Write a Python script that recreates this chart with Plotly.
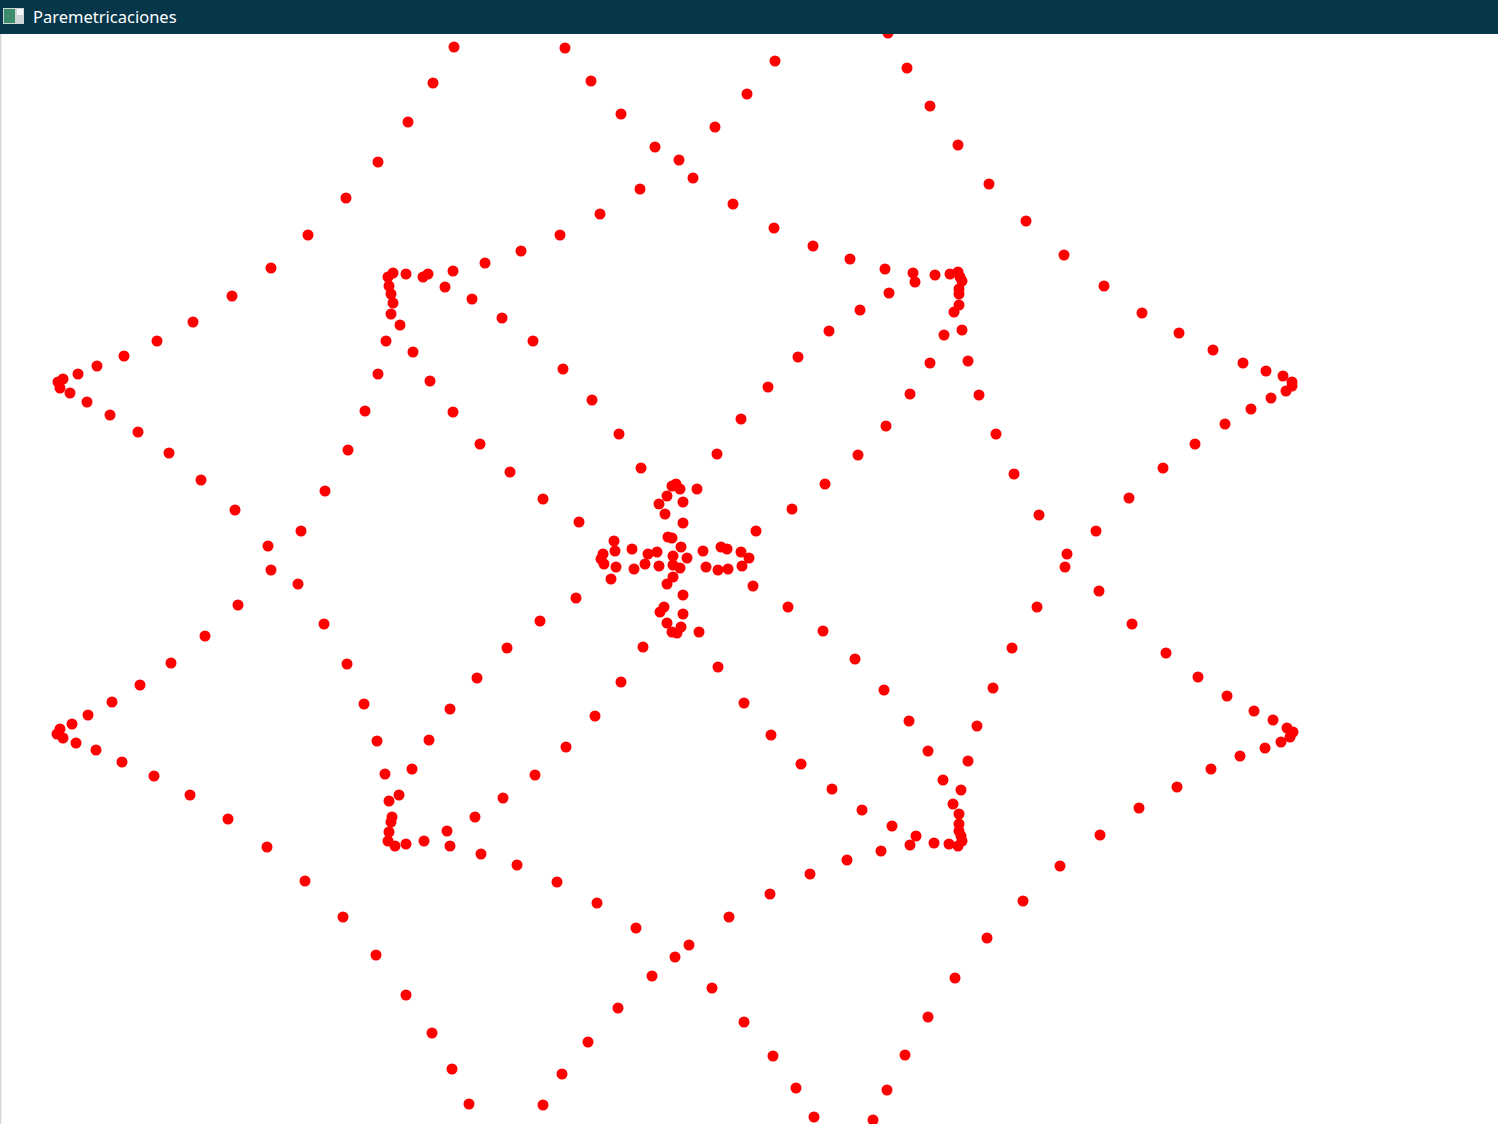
import plotly.graph_objects as go

# dot positions (pixels, origin top-left)
top_left = [(454, 47), (433, 83), (408, 122), (378, 162), (346, 198), (308, 235), (271, 268),
            (232, 296), (193, 322), (157, 341), (124, 356), (97, 366), (78, 374),
            (393, 273), (388, 277), (389, 286), (391, 294), (393, 303), (391, 314), (400, 325),
            (386, 341), (413, 352), (378, 374), (406, 274), (423, 277), (428, 274), (445, 287),
            (453, 271), (472, 299), (485, 263), (502, 318)]

left_mid = [(58, 382), (63, 379), (60, 388), (70, 393), (87, 402), (110, 415), (138, 432),
            (169, 453), (201, 480), (235, 510), (268, 546), (271, 570), (238, 605), (205, 636),
            (171, 663), (140, 685), (112, 702), (88, 715), (72, 724), (60, 729), (57, 734),
            (63, 738), (76, 743), (96, 750),
            (430, 381), (365, 411), (453, 412), (348, 450), (480, 444), (325, 491), (301, 531),
            (298, 584), (324, 624), (347, 664), (364, 704), (377, 741), (477, 678), (450, 709),
            (429, 740)]

bottom_left = [(122, 762), (154, 776), (190, 795), (228, 819), (267, 847), (305, 881), (343, 917),
               (376, 955), (406, 995), (432, 1033), (452, 1069), (469, 1104),
               (385, 774), (412, 769), (399, 795), (389, 801), (392, 817), (391, 822), (389, 832),
               (388, 841), (395, 846), (406, 844), (424, 841), (447, 831), (450, 846), (475, 817),
               (481, 854), (503, 798)]

top_mid = [(565, 48), (591, 81), (621, 114), (655, 147), (679, 160), (693, 178), (733, 204),
           (774, 228), (813, 246), (850, 259), (885, 269), (913, 273), (915, 282), (935, 275),
           (950, 274), (958, 272), (960, 277), (962, 281), (959, 289), (959, 294), (959, 305),
           (954, 312), (962, 330), (944, 335), (968, 361), (930, 363),
           (775, 61), (747, 94), (715, 127), (640, 189), (600, 214), (560, 235), (521, 251),
           (533, 341), (563, 369), (889, 293), (860, 310), (829, 331), (798, 357),
           (888, 33), (907, 68), (930, 106), (958, 145), (989, 184)]

right_side = [(1026, 221), (1064, 255), (1104, 286), (1142, 313), (1179, 333), (1213, 350),
              (1243, 363), (1266, 371), (1283, 376), (1292, 382), (1292, 386), (1286, 391),
              (1271, 398), (1251, 409), (1225, 424), (1195, 444), (1163, 468), (1129, 498),
              (1096, 531), (1067, 554), (1065, 567), (1099, 591), (1132, 624), (1166, 653),
              (1198, 677), (1227, 696), (1254, 711), (1273, 720), (1287, 728), (1293, 732),
              (1290, 737), (1281, 742), (1265, 748),
              (1014, 474), (1039, 515), (1037, 607), (1012, 648),
              (1240, 756), (1211, 769), (1177, 787), (1139, 808), (1100, 835), (1060, 866),
              (1023, 901)]

bottom_mid = [(566, 747), (535, 775), (517, 865), (557, 882), (597, 903), (636, 928), (689, 945),
              (675, 957), (652, 976), (618, 1008), (588, 1042), (562, 1074), (543, 1105),
              (712, 988), (744, 1022), (773, 1056), (796, 1088), (814, 1117), (873, 1120),
              (887, 1090), (905, 1055), (928, 1017), (955, 978), (987, 938),
              (801, 764), (832, 789), (862, 810), (892, 826), (916, 836), (910, 845), (934, 843),
              (949, 844), (958, 846), (962, 841), (961, 836), (959, 831), (959, 824), (959, 814),
              (953, 804), (961, 790), (943, 780), (968, 761), (928, 751),
              (881, 851), (847, 860), (810, 874), (770, 894), (729, 917)]

middle = [(592, 400), (619, 434), (641, 468), (510, 472), (543, 499), (579, 522), (768, 387),
          (741, 419), (717, 454), (910, 394), (979, 395), (886, 426), (996, 434), (858, 455),
          (825, 484), (792, 509), (756, 531),
          (576, 598), (540, 621), (507, 648), (643, 647), (621, 682), (595, 716), (718, 667),
          (744, 703), (771, 735), (788, 607), (823, 631), (855, 659), (884, 690), (909, 721),
          (993, 688), (977, 726)]

center_cross = [(672, 486), (676, 484), (680, 489), (697, 489), (667, 496), (659, 504), (683, 502),
                (665, 514), (683, 523), (668, 537), (672, 538), (681, 547), (614, 541), (615, 551),
                (632, 549), (648, 554), (657, 552), (603, 554), (601, 559), (604, 564), (616, 567),
                (634, 569), (645, 564), (659, 566), (673, 556), (673, 565), (680, 568), (687, 558),
                (703, 551), (721, 547), (727, 549), (741, 552), (749, 558), (742, 566), (728, 569),
                (718, 570), (706, 567), (611, 579), (673, 577), (667, 584), (753, 586), (683, 595),
                (664, 607), (660, 612), (683, 614), (667, 623), (672, 632), (677, 633), (681, 627),
                (699, 632)]

groups = [top_left, left_mid, bottom_left, top_mid, right_side, bottom_mid, middle, center_cross]
xs = [p[0] for g in groups for p in g]
ys = [p[1] for g in groups for p in g]

W, H = 1498, 1124
BAR = 34

fig = go.Figure()
fig.add_trace(go.Scatter(x=xs, y=ys, mode="markers",
                         marker=dict(color="#ff0000", size=11, line=dict(width=0)),
                         hoverinfo="skip"))

bar_y0 = 1 - BAR / H
fig.update_layout(
    width=W, height=H,
    margin=dict(l=0, r=0, t=0, b=0),
    paper_bgcolor="white", plot_bgcolor="white",
    showlegend=False,
    xaxis=dict(range=[0, W], visible=False, fixedrange=True),
    yaxis=dict(range=[H, 0], visible=False, fixedrange=True),
    shapes=[
        # title bar
        dict(type="rect", xref="paper", yref="paper", x0=0, x1=1, y0=bar_y0, y1=1,
             fillcolor="#05364a", line=dict(width=0), layer="above"),
        # window icon
        dict(type="rect", xref="paper", yref="paper", x0=3 / W, x1=24 / W,
             y0=1 - 24 / H, y1=1 - 8 / H, fillcolor="#cfd6da", line=dict(width=0), layer="above"),
        dict(type="rect", xref="paper", yref="paper", x0=4 / W, x1=15 / W,
             y0=1 - 23 / H, y1=1 - 9 / H, fillcolor="#3d8c6c", line=dict(width=0), layer="above"),
        dict(type="rect", xref="paper", yref="paper", x0=17 / W, x1=23 / W,
             y0=1 - 15 / H, y1=1 - 9 / H, fillcolor="#f4f6f6", line=dict(width=0), layer="above"),
        # left window border
        dict(type="line", xref="paper", yref="paper", x0=0.5 / W, x1=0.5 / W, y0=0, y1=bar_y0,
             line=dict(color="#d4d4d4", width=1.5), layer="above"),
    ],
    annotations=[
        dict(text="Paremetricaciones", xref="paper", yref="paper", x=31 / W, y=1 - 17 / H,
             xanchor="left", yanchor="middle", showarrow=False,
             font=dict(family="Noto Sans", size=16.5, color="white")),
    ],
)

# drop the page's default body margin so the figure sits at the window's corner
fig.write_html("out.html", config={"displayModeBar": False},
               post_script="document.body.style.margin='0';document.body.style.overflow='hidden';")
